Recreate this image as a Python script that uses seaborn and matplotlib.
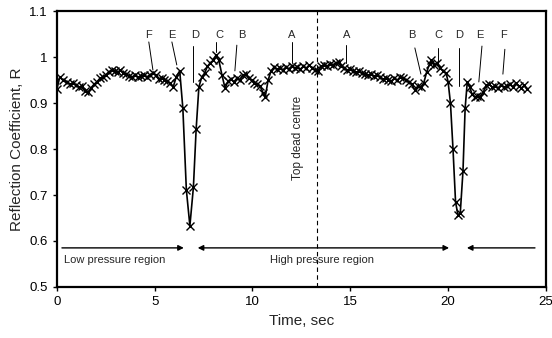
import matplotlib
matplotlib.use("Agg")
import matplotlib.pyplot as plt
import seaborn as sns
import pandas as pd

# reflection coefficient vs time
time_s = [0.0, 0.15, 0.3, 0.5, 0.65, 0.8, 1.0, 1.15, 1.3, 1.45, 1.6, 1.75, 1.9, 2.05,
          2.2, 2.35, 2.5, 2.65, 2.8, 2.95, 3.1, 3.25, 3.4, 3.55, 3.7, 3.85, 4.0, 4.15,
          4.3, 4.45, 4.6, 4.75, 4.9, 5.05, 5.2, 5.35, 5.5, 5.65, 5.8, 5.95, 6.1, 6.28,
          6.44, 6.62, 6.8, 6.98, 7.12, 7.26, 7.41, 7.55, 7.7, 7.85, 8.0, 8.13, 8.28,
          8.44, 8.6, 8.75, 8.9, 9.05, 9.2, 9.35, 9.5, 9.65, 9.8, 9.95, 10.1, 10.25,
          10.4, 10.55, 10.65, 10.8, 10.95, 11.1, 11.25, 11.4, 11.55, 11.7, 11.85, 12.0,
          12.15, 12.3, 12.45, 12.6, 12.75, 12.9, 13.05, 13.2, 13.35, 13.5, 13.65, 13.8,
          13.95, 14.1, 14.25, 14.4, 14.55, 14.7, 14.85, 15.0, 15.15, 15.3, 15.45, 15.6,
          15.75, 15.9, 16.05, 16.2, 16.35, 16.5, 16.65, 16.8, 16.95, 17.1, 17.25, 17.4,
          17.55, 17.7, 17.85, 18.0, 18.15, 18.3, 18.45, 18.6, 18.75, 18.9, 19.05, 19.15,
          19.3, 19.45, 19.6, 19.75, 19.9, 20.0, 20.12, 20.25, 20.38, 20.5, 20.62, 20.76,
          20.87, 20.98, 21.1, 21.22, 21.35, 21.5, 21.65, 21.8, 21.95, 22.1, 22.25, 22.4,
          22.55, 22.7, 22.85, 23.0, 23.15, 23.3, 23.45, 23.6, 23.75, 23.9, 24.03]
refl = [0.930, 0.957, 0.950, 0.946, 0.941, 0.943, 0.939, 0.935, 0.937, 0.927, 0.924,
        0.933, 0.941, 0.946, 0.954, 0.957, 0.961, 0.968, 0.972, 0.970, 0.967, 0.972,
        0.965, 0.963, 0.959, 0.957, 0.961, 0.956, 0.959, 0.961, 0.957, 0.961, 0.965,
        0.961, 0.952, 0.955, 0.950, 0.948, 0.943, 0.935, 0.957, 0.970, 0.889, 0.711,
        0.633, 0.717, 0.843, 0.935, 0.957, 0.965, 0.980, 0.988, 0.993, 1.004, 0.993,
        0.961, 0.932, 0.948, 0.952, 0.946, 0.954, 0.950, 0.961, 0.963, 0.954, 0.950,
        0.943, 0.941, 0.937, 0.921, 0.913, 0.950, 0.970, 0.978, 0.974, 0.976, 0.972,
        0.978, 0.974, 0.980, 0.976, 0.978, 0.974, 0.980, 0.976, 0.983, 0.976, 0.972,
        0.970, 0.980, 0.983, 0.980, 0.985, 0.983, 0.987, 0.989, 0.980, 0.976, 0.972,
        0.974, 0.970, 0.967, 0.969, 0.965, 0.963, 0.961, 0.963, 0.958, 0.961, 0.957,
        0.952, 0.954, 0.950, 0.948, 0.954, 0.950, 0.957, 0.954, 0.950, 0.946, 0.941,
        0.928, 0.937, 0.935, 0.943, 0.967, 0.985, 0.993, 0.983, 0.987, 0.976, 0.970,
        0.965, 0.946, 0.900, 0.800, 0.685, 0.657, 0.660, 0.752, 0.889, 0.946, 0.935,
        0.920, 0.913, 0.915, 0.913, 0.924, 0.939, 0.941, 0.935, 0.937, 0.933, 0.939,
        0.935, 0.937, 0.941, 0.935, 0.943, 0.937, 0.933, 0.939, 0.930]

# point labels: letter, letter x, leader line start (x, y) and end (x, y)
label_text = ["F", "E", "D", "C", "B", "A", "A", "B", "C", "D", "E", "F"]
label_x = [4.70, 5.88, 7.06, 8.33, 9.46, 12.01, 14.83, 18.15, 19.48, 20.55, 21.63, 22.85]
line_x0 = [4.70, 5.88, 6.95, 8.13, 9.20, 12.01, 14.77, 18.30, 19.48, 20.55, 21.73, 22.90]
line_y0 = [1.033, 1.033, 1.024, 1.033, 1.026, 1.033, 1.026, 1.020, 1.020, 1.020, 1.024, 1.017]
line_x1 = [4.91, 6.13, 6.95, 8.13, 9.10, 12.01, 14.77, 18.61, 19.48, 20.55, 21.57, 22.80]
line_y1 = [0.972, 0.983, 0.946, 1.011, 0.970, 0.987, 0.987, 0.963, 0.989, 0.937, 0.946, 0.963]

tdc_time = 13.3
yticks = [0.5, 0.6, 0.7, 0.8, 0.9, 1.0, 1.1]
ytick_labels = ["0.5", "0.6", "0.7", "0.8", "0.9", "1", "1.1"]
xticks = [0, 5, 10, 15, 20, 25]

sns.set_style("white")
plt.rcParams["font.family"] = ["Liberation Sans", "DejaVu Sans"]

df = pd.DataFrame({"Time": time_s, "R": refl})

fig = plt.figure(figsize=(5.52, 3.38), dpi=100)
ax = fig.add_axes([0.103, 0.151, 0.886, 0.816])

sns.lineplot(data=df, x="Time", y="R", color="black", linewidth=1.2,
             marker="x", markersize=5.5, markeredgewidth=1.0,
             markeredgecolor="black", ax=ax)

ax.set_xlim(0, 25)
ax.set_ylim(0.5, 1.1)
ax.set_xticks(xticks)
ax.set_yticks(yticks)
ax.set_yticklabels(ytick_labels)
ax.tick_params(axis="both", direction="out", length=3, width=1, labelsize=9.5,
               bottom=True, left=True, colors="black")
for sp in ax.spines.values():
    sp.set_linewidth(1.6)
    sp.set_color("black")

ax.set_xlabel("Time, sec", fontsize=11)
ax.set_ylabel("Reflection Coefficient, R", fontsize=11)

# top dead centre
ax.axvline(tdc_time, color="black", linestyle=(0, (4, 3)), linewidth=0.8)
ax.text(12.35, 0.825, "Top dead centre", rotation=90, fontsize=8.5,
        ha="center", va="center")

# letter labels with leader lines
for t, lx, x0, y0, x1, y1 in zip(label_text, label_x, line_x0, line_y0, line_x1, line_y1):
    ax.text(lx, 1.048, t, fontsize=8, ha="center", va="center")
    ax.plot([x0, x1], [y0, y1], color="black", linewidth=0.7)

# pressure region arrows
arrow_kw = dict(color="black", lw=1.0, mutation_scale=8, shrinkA=0, shrinkB=0)
ax.annotate("", xy=(6.49, 0.585), xytext=(0.26, 0.585),
            arrowprops=dict(arrowstyle="-|>", **arrow_kw))
ax.annotate("", xy=(20.05, 0.585), xytext=(7.2, 0.585),
            arrowprops=dict(arrowstyle="<|-|>", **arrow_kw))
ax.annotate("", xy=(20.96, 0.585), xytext=(24.44, 0.585),
            arrowprops=dict(arrowstyle="-|>", **arrow_kw))
ax.text(0.36, 0.559, "Low pressure region", fontsize=8, ha="left", va="center")
ax.text(13.55, 0.559, "High pressure region", fontsize=8, ha="center", va="center")

fig.savefig("out.png", dpi=100)
